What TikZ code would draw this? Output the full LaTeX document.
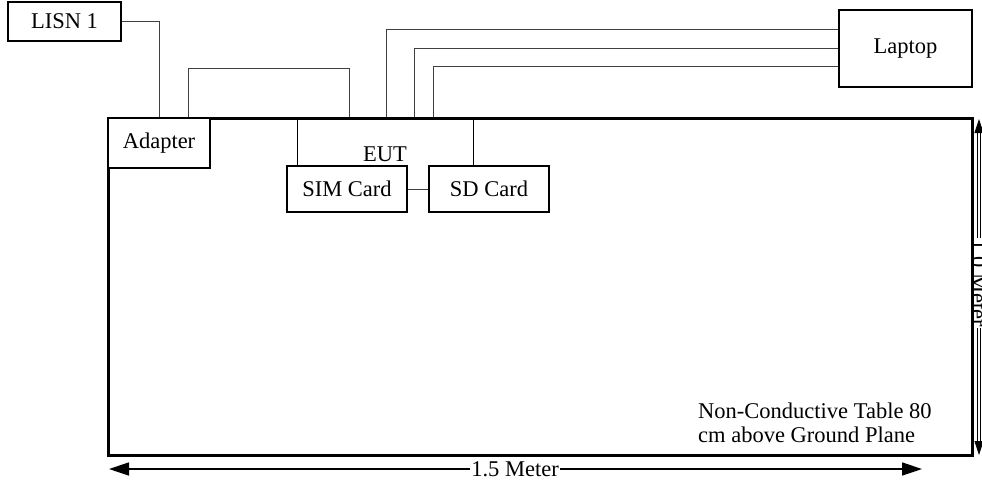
\documentclass[tikz,border=0pt]{standalone}
\usepackage{fontspec}
\setmainfont{Liberation Serif}
\usetikzlibrary{arrows.meta}
\begin{document}
\begin{tikzpicture}[x=1pt,y=-1pt,
  every node/.style={font=\fontsize{22.5}{24}\selectfont, inner sep=0pt},
  box/.style={draw=black, line width=1.2pt, rectangle, fill=white},
  wire/.style={draw=black!75, line width=1pt},
  tableborder/.style={draw=black, line width=3pt},
  dimarrow/.style={draw=black, line width=1.6pt, {Triangle[length=20pt,width=13pt]}-{Triangle[length=20pt,width=13pt]}}]
\useasboundingbox (0,0) rectangle (982,483);

% connection coordinates on the table edge
\coordinate (a1) at (188,118);
\coordinate (e1) at (349,118);
\coordinate (e2) at (386,118);
\coordinate (e3) at (414,118);
\coordinate (e4) at (433,118);

% boxes
\node[box, minimum width=113pt, minimum height=39pt] (lisn) at (64.5,21.5) {LISN 1};
\node[box, minimum width=133pt, minimum height=77pt] (laptop) at (905.5,48.5) {Laptop};
\node[minimum width=175pt, minimum height=48pt] (eut) at (385.5,142) {};
\node (eutlabel) at (385,154) {EUT};

% wires
\draw[wire] (lisn.east) -| (159,118);
\draw[wire] (a1) -- ++(0,-50) -| (e1);
\draw[wire] (e2) |- (laptop.west |- 0,29);
\draw[wire] (e3) |- (laptop.west |- 0,48);
\draw[wire] (e4) |- (laptop.west |- 0,66);

% dimension arrows
\coordinate (h1) at (109,469);
\coordinate (h2) at (922,469);
\draw[dimarrow] (h1) -- (h2);
\node[fill=white, inner xsep=1pt] (hlabel) at (515,469) {1.5 Meter};

\coordinate (v1) at (979,119);
\coordinate (v2) at (979,455);
\draw[draw=black, line width=0.8pt, double=white, double distance=1.6pt,
  {Triangle[length=14pt,width=9pt]}-{Triangle[length=14pt,width=9pt]}] (v1) -- (v2);
\node[fill=white, rotate=-90, inner xsep=1pt] (vlabel) at (979,283) {1.0 Meter};

% table
\draw[tableborder] (108,118) rectangle (972,455);
\node (tablelabel) [anchor=north west, align=left] at (698,403) {Non-Conductive Table 80\\cm above Ground Plane};

% EUT sides
\draw[box] (eut.north west) -- (eut.south west);
\draw[box] (eut.north east) -- (eut.south east);

% devices on table
\node[box, minimum width=102pt, minimum height=50pt] (adapter) at (159,143) {Adapter};
\node[box, minimum width=120pt, minimum height=46pt] (sim) at (347,189) {SIM Card};
\node[box, minimum width=120pt, minimum height=46pt] (sd) at (489,189) {SD Card};
\draw[wire] (sim.east) -- (sd.west);
\end{tikzpicture}
\end{document}
